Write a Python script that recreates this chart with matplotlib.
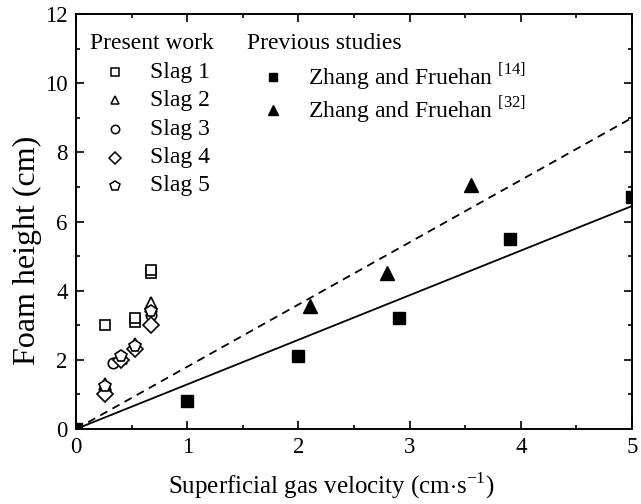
import numpy as np
import matplotlib.pyplot as plt
from matplotlib.ticker import MultipleLocator

plt.rcParams['font.family'] = 'Liberation Serif'
plt.rcParams['mathtext.fontset'] = 'custom'
plt.rcParams['mathtext.rm'] = 'Liberation Serif'

# present work, five slags
slag1_x = [0.26, 0.53, 0.53, 0.67, 0.67]
slag1_y = [3.0, 3.1, 3.2, 4.5, 4.6]
slag2_x = [0.26, 0.40, 0.53, 0.67, 0.67]
slag2_y = [1.3, 2.05, 2.45, 3.55, 3.65]
slag3_x = [0.26, 0.33, 0.53, 0.67]
slag3_y = [1.1, 1.9, 2.35, 3.3]
slag4_x = [0.26, 0.40, 0.53, 0.67]
slag4_y = [1.0, 2.0, 2.3, 3.0]
slag5_x = [0.26, 0.40, 0.53, 0.67]
slag5_y = [1.25, 2.1, 2.4, 3.4]

# previous studies
zf14_x = [0.0, 1.0, 2.0, 2.9, 3.9, 5.0]
zf14_y = [0.0, 0.8, 2.1, 3.2, 5.5, 6.7]
zf32_x = [2.1, 2.8, 3.55]
zf32_y = [3.55, 4.5, 7.05]

# trend lines through the origin
slope_solid = 1.29
slope_dash = 1.8

slag_labels = ['Slag 1', 'Slag 2', 'Slag 3', 'Slag 4', 'Slag 5']
slag_markers = ['s', '^', 'o', 'D', 'p']
prev_labels = [r'Zhang and Fruehan $^{\mathregular{[14]}}$',
               r'Zhang and Fruehan $^{\mathregular{[32]}}$']
prev_markers = ['s', '^']

fig = plt.figure(figsize=(6.41, 5.04), dpi=100)
ax = fig.add_axes([0.1186, 0.1488, 0.8674, 0.8232])

xl = np.array([0, 5])
ax.plot(xl, slope_solid*xl, 'k-', lw=1.3)
ax.plot(xl, slope_dash*xl, 'k--', lw=1.3, dashes=(4.5, 3.2))

kw = dict(ls='none', mfc='white', mec='k', mew=1.2, clip_on=False)
ax.plot(slag1_x, slag1_y, marker='s', ms=7, **kw)
ax.plot(slag2_x, slag2_y, marker='^', ms=8, **kw)
ax.plot(slag3_x, slag3_y, marker='o', ms=7.5, **kw)
ax.plot(slag4_x, slag4_y, marker='D', ms=8, **kw)
ax.plot(slag5_x, slag5_y, marker='p', ms=8.5, **kw)

ax.plot(zf14_x, zf14_y, 'ks', ms=8)
ax.plot(zf32_x, zf32_y, 'k^', ms=9.5)

ax.set_xlim(0, 5)
ax.set_ylim(0, 12)
ax.xaxis.set_major_locator(MultipleLocator(1))
ax.xaxis.set_minor_locator(MultipleLocator(0.5))
ax.yaxis.set_major_locator(MultipleLocator(2))
ax.yaxis.set_minor_locator(MultipleLocator(1))
ax.tick_params(which='both', direction='in', top=True, right=True, width=1.2,
               labelsize=16.5, pad=6)
ax.tick_params(which='major', length=6)
ax.tick_params(which='minor', length=3)
for s in ax.spines.values():
    s.set_linewidth(1.4)

ax.set_xlabel(r'Superficial gas velocity (cm$\cdot$s$^{\mathregular{-1}}$)', fontsize=18, labelpad=9)
ax.set_ylabel('Foam height (cm)', fontsize=23, labelpad=2)
ax.xaxis.label.set_x(0.46)
ax.yaxis.label.set_y(0.431)

# hand-made key: two groups with headings
fs = 17
ax.text(0.025, 0.930, 'Present work', transform=ax.transAxes, fontsize=fs, va='center')
rows1 = [0.860, 0.792, 0.723, 0.654, 0.586]
for m, lab, yy in zip(slag_markers, slag_labels, rows1):
    ax.plot(0.0701, yy, marker=m, ms=6 if m != 'p' else 7, mfc='white', mec='k', mew=1.1,
            transform=ax.transAxes, clip_on=False)
    ax.text(0.1331, yy, lab, transform=ax.transAxes, fontsize=fs, va='center')

ax.text(0.3076, 0.930, 'Previous studies', transform=ax.transAxes, fontsize=fs, va='center')
rows2 = [0.848, 0.769]
for m, lab, yy in zip(prev_markers, prev_labels, rows2):
    ax.plot(0.3543, yy, marker=m, ms=6 if m == 's' else 7.5, color='k',
            transform=ax.transAxes, clip_on=False)
    ax.text(0.4173, yy, lab, transform=ax.transAxes, fontsize=fs, va='center')

fig.savefig('out.png', dpi=100)
